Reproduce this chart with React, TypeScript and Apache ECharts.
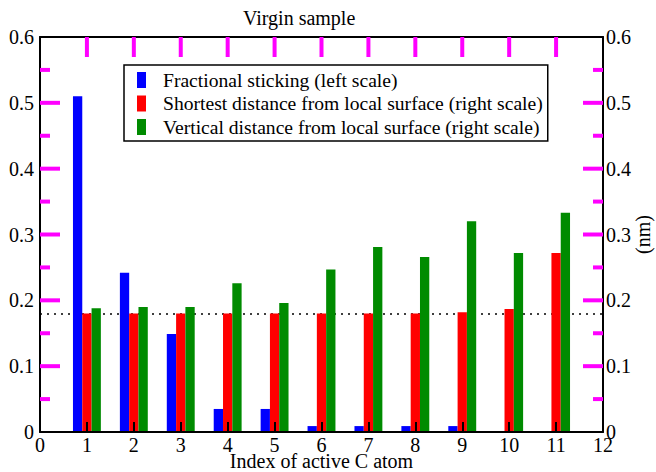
import React, { useEffect, useRef } from 'react';
import * as echarts from 'echarts';

// ---- data ----
const xTicks = ['0', '1', '2', '3', '4', '5', '6', '7', '8', '9', '10', '11', '12'];
const atomIndex = [1, 2, 3, 4, 5, 6, 7, 8, 9, 10, 11];
const fractionalSticking = [0.51, 0.242, 0.149, 0.035, 0.035, 0.009, 0.009, 0.009, 0.009, 0, 0];
const shortestDistance = [0.18, 0.18, 0.18, 0.18, 0.18, 0.18, 0.18, 0.18, 0.182, 0.187, 0.272];
const verticalDistance = [0.188, 0.19, 0.19, 0.226, 0.196, 0.247, 0.281, 0.266, 0.32, 0.272, 0.333];
const referenceLevel = 0.18;
const yMajorTicks = [0.1, 0.2, 0.3, 0.4, 0.5];
const yMinorTicks = [0.05, 0.15, 0.25, 0.35, 0.45, 0.55];
const yMin = 0;
const yMax = 0.6;
const seriesNames = [
  'Fractional sticking (left scale)',
  'Shortest distance from local surface (right scale)',
  'Vertical distance from local surface (right scale)',
];
const seriesColors = ['#0000ff', '#ff0000', '#008b00'];

const FONT = 'Liberation Serif';

function toCategoryData(values: number[]) {
  return xTicks.map((t) => {
    const i = atomIndex.indexOf(Number(t));
    return i >= 0 ? values[i] : '-';
  });
}

const yLabel = (v: number) => (v === 0 ? '0' : v.toFixed(1));

const lastIdx = xTicks.length - 1;
const tickPoints: number[][] = [];
const tickKinds: string[] = [];
yMajorTicks.forEach((v) => { tickPoints.push([0, v]); tickKinds.push('lM'); });
yMinorTicks.forEach((v) => { tickPoints.push([0, v]); tickKinds.push('lm'); });
yMajorTicks.forEach((v) => { tickPoints.push([lastIdx, v]); tickKinds.push('rM'); });
yMinorTicks.forEach((v) => { tickPoints.push([lastIdx, v]); tickKinds.push('rm'); });
atomIndex.forEach((i) => { tickPoints.push([i, yMax]); tickKinds.push('t'); });

function renderTick(params: any, api: any) {
  const kind = tickKinds[params.dataIndex];
  const p = api.coord([api.value(0), api.value(1)]);
  const len = kind === 'lm' || kind === 'rm' ? 10 : 20;
  let dx = 0;
  let dy = 0;
  if (kind === 'lM' || kind === 'lm') dx = len;
  else if (kind === 'rM' || kind === 'rm') dx = -len;
  else dy = len;
  return {
    type: 'line',
    shape: { x1: p[0], y1: p[1], x2: p[0] + dx, y2: p[1] + dy },
    style: { stroke: '#ff00ff', lineWidth: 4, fill: 'none' },
  };
}

function makeYAxis(position: 'left' | 'right', extra: any = {}) {
  return {
    type: 'value',
    position,
    min: yMin,
    max: yMax,
    interval: 0.1,
    z: 10,
    axisLine: { show: true, onZero: false, lineStyle: { color: '#000', width: 2 } },
    axisTick: { show: false },
    splitLine: { show: false },
    axisLabel: {
      color: '#000',
      fontFamily: FONT,
      fontSize: 20,
      margin: position === 'left' ? 6 : 3,
      formatter: yLabel,
    },
    ...extra,
  };
}

export default function App() {
  const ref = useRef<HTMLDivElement>(null);

  useEffect(() => {
    if (!ref.current) return;
    const chart = echarts.init(ref.current, null, { renderer: 'svg' });
    const dataSets = [fractionalSticking, shortestDistance, verticalDistance];
    const barSeries = dataSets.map((vals, i) => ({
      name: seriesNames[i],
      type: 'bar',
      xAxisIndex: 0,
      yAxisIndex: i === 0 ? 0 : 1,
      barWidth: 9.3,
      barGap: '0%',
      itemStyle: { color: seriesColors[i] },
      data: toCategoryData(vals),
      ...(i === 1
        ? {
            markLine: {
              z: 1,
              silent: true,
              symbol: ['none', 'none'],
              label: { show: false },
              lineStyle: { color: '#000', width: 1.5, type: [2, 5] },
              data: [{ yAxis: referenceLevel }],
            },
          }
        : {}),
    }));
    chart.setOption({
      animation: false,
      backgroundColor: '#fff',
      textStyle: { fontFamily: FONT, color: '#000' },
      title: {
        text: 'Virgin sample',
        left: 238,
        top: 3,
        textStyle: { fontFamily: FONT, fontSize: 20, fontWeight: 'normal', color: '#000' },
      },
      legend: {
        orient: 'vertical',
        left: 124,
        top: 65,
        padding: [5, 5, 4, 13],
        itemWidth: 9,
        itemHeight: 16,
        itemGap: 3.5,
        icon: 'rect',
        borderColor: '#000',
        borderWidth: 1.5,
        selectedMode: false,
        textStyle: { fontFamily: FONT, fontSize: 19.6, color: '#000', padding: [0, 0, 0, 12] },
        data: seriesNames,
      },
      grid: { left: 40, right: 53, top: 37, bottom: 40, containLabel: false, outerBoundsMode: 'none' },
      xAxis: [
        {
          type: 'category',
          data: xTicks,
          boundaryGap: false,
          position: 'bottom',
          z: 10,
          axisLine: { show: true, onZero: false, lineStyle: { color: '#000', width: 2 } },
          axisTick: { show: true, inside: true, length: 10, interval: 0, alignWithLabel: true, lineStyle: { color: '#000', width: 2 } },
          axisLabel: { interval: 0, color: '#000', fontFamily: FONT, fontSize: 20, margin: 3 },
          splitLine: { show: false },
          name: 'Index of active C atom',
          nameLocation: 'middle',
          nameGap: 19,
          nameMoveOverlap: false,
          nameTextStyle: { fontFamily: FONT, fontSize: 20, color: '#000' },
        },
        {
          type: 'category',
          data: xTicks,
          boundaryGap: false,
          position: 'top',
          z: 10,
          axisLine: { show: true, onZero: false, lineStyle: { color: '#000', width: 2 } },
          axisTick: { show: false },
          axisLabel: { show: false },
          splitLine: { show: false },
        },
      ],
      yAxis: [
        makeYAxis('left'),
        makeYAxis('right', {
          name: '(nm)',
          nameLocation: 'middle',
          nameRotate: 90,
          nameGap: 30,
          nameMoveOverlap: false,
          nameTextStyle: { fontFamily: FONT, fontSize: 20, color: '#000' },
        }),
      ],
      series: [
        ...barSeries,
        {
          type: 'custom',
          name: 'ticks',
          xAxisIndex: 0,
          yAxisIndex: 0,
          z: 20,
          silent: true,
          clip: false,
          encode: { x: 0, y: 1 },
          renderItem: renderTick,
          data: tickPoints,
        },
      ],
    });
    return () => chart.dispose();
  }, []);

  return (
    <div
      ref={ref}
      style={{ position: 'fixed', left: 0, top: 0, width: 656, height: 472 }}
    />
  );
}
